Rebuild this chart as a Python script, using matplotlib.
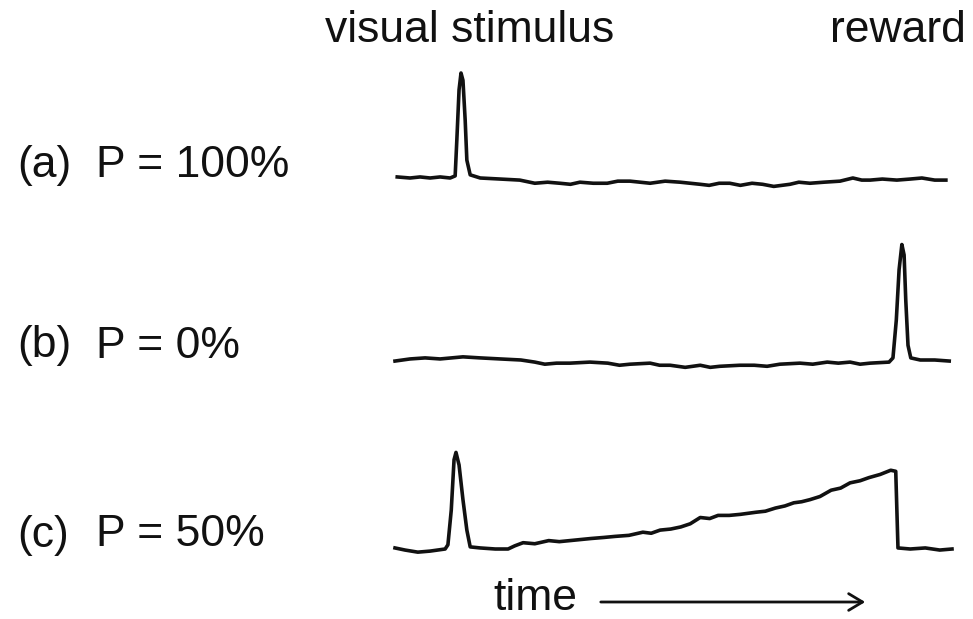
import matplotlib
matplotlib.use("Agg")
import matplotlib.pyplot as plt
from matplotlib.patches import FancyArrowPatch

plt.rcParams['font.family'] = ['Liberation Sans', 'DejaVu Sans']

# --- data (time in arbitrary units 0..100, response relative to baseline) ---
t_a = [0.4, 2.7, 4.5, 6.3, 8.1, 9.9, 10.8, 11.1, 11.5, 11.85, 12.2, 12.6, 12.9, 13.5, 15.3, 18.9,
       22.4, 25.1, 27.4, 29.6, 31.5, 33.2, 35.6, 38.1, 40.0, 42.2, 45.8, 48.5, 51.2, 54.8, 56.4,
       58.2, 60.1, 62.0, 64.1, 66.0, 68.0, 70.9, 72.5, 74.5, 77.0, 79.9, 82.2, 83.8, 85.3, 87.5,
       90.1, 92.5, 94.6, 96.9, 98.9]
r_a = [0.01, 0.0, 0.01, 0.0, 0.01, 0.0, 0.02, 0.36, 0.84, 1.0, 0.93, 0.55, 0.17, 0.03, 0.0, -0.01,
       -0.02, -0.05, -0.04, -0.05, -0.06, -0.04, -0.05, -0.05, -0.03, -0.03, -0.05, -0.03, -0.04, -0.06, -0.07,
       -0.05, -0.05, -0.07, -0.05, -0.06, -0.08, -0.06, -0.04, -0.05, -0.04, -0.03, 0.0, -0.02, -0.02, -0.01,
       -0.02, -0.01, 0.0, -0.02, -0.02]

t_b = [0.0, 2.7, 5.4, 8.1, 12.2, 15.3, 18.9, 22.6, 25.1, 26.9, 29.0, 31.4, 35.0, 38.2, 40.3, 42.2,
       45.8, 47.5, 49.4, 52.1, 54.8, 56.6, 58.3, 61.9, 64.5, 66.8, 69.1, 72.7, 75.0, 77.6, 79.6,
       81.7, 83.5, 85.3, 88.7, 89.4, 90.0, 90.5, 91.0, 91.4, 91.7, 92.1, 92.6, 94.3, 96.9, 99.5]
r_b = [-0.01, 0.01, 0.02, 0.01, 0.03, 0.02, 0.01, 0.0, -0.02, -0.04, -0.03, -0.03, -0.02, -0.03, -0.05, -0.04,
       -0.03, -0.05, -0.05, -0.07, -0.05, -0.07, -0.06, -0.05, -0.05, -0.06, -0.04, -0.03, -0.04, -0.02, -0.03,
       -0.02, -0.04, -0.03, -0.02, 0.02, 0.38, 0.86, 1.10, 1.0, 0.57, 0.14, 0.02, 0.0, 0.0, -0.01]

t_c = [0.0, 1.8, 4.1, 6.3, 9.0, 9.5, 10.1, 10.6, 10.95, 11.5, 12.2, 12.9, 13.5, 15.3, 18.0, 20.3,
       21.5, 23.0, 25.1, 27.6, 29.5, 31.4, 33.3, 35.2, 37.5, 39.5, 42.0, 44.5, 46.0, 47.6, 49.5,
       51.3, 53.0, 54.8, 56.5, 58.0, 60.0, 62.0, 64.8, 66.5, 68.3, 70.0, 71.6, 73.0, 74.5, 76.3,
       78.3, 80.0, 81.7, 83.5, 85.1, 87.1, 89.0, 89.9, 90.3, 92.5, 95.2, 97.8, 100.0]
r_c = [0.01, -0.01, -0.03, -0.02, 0.0, 0.04, 0.37, 0.85, 0.92, 0.80, 0.47, 0.18, 0.02, 0.01, 0.0, 0.0,
       0.03, 0.06, 0.05, 0.08, 0.07, 0.08, 0.09, 0.10, 0.11, 0.12, 0.13, 0.16, 0.15, 0.18, 0.19,
       0.21, 0.24, 0.30, 0.29, 0.32, 0.32, 0.33, 0.35, 0.36, 0.39, 0.41, 0.44, 0.45, 0.47, 0.50,
       0.56, 0.58, 0.63, 0.65, 0.68, 0.71, 0.75, 0.74, 0.01, 0.0, 0.01, -0.01, 0.0]

conditions = ["P = 100%", "P = 0%", "P = 50%"]
panel_tags = ["(a)", "(b)", "(c)"]
events = ["visual stimulus", "reward"]

traces = [(t_a, r_a), (t_b, r_b), (t_c, r_c)]

W, H = 973, 619
fig = plt.figure(figsize=(W / 100, H / 100), dpi=100)

baselines = [178, 360, 549]      # pixel row of each trace's baseline
label_rows = [166, 346, 535]
unit = 105                       # pixels per response unit
ymin, ymax = -0.3, 1.2
ink = "#111111"

for (t, r), base in zip(traces, baselines):
    top = base - ymax * unit
    bottom = base - ymin * unit
    ax = fig.add_axes([395 / W, 1 - bottom / H, 557 / W, (bottom - top) / H])
    ax.plot(t, r, color=ink, lw=2.6, solid_joinstyle="round", clip_on=False)
    ax.set_xlim(0, 100)
    ax.set_ylim(ymin, ymax)
    ax.axis("off")

fs = 32
for tag, cond, row in zip(panel_tags, conditions, label_rows):
    fig.text(17 / W, 1 - row / H, tag, fontsize=fs, va="center", ha="left", color=ink)
    fig.text(96 / W, 1 - row / H, cond, fontsize=fs, va="center", ha="left", color=ink)

fig.text(470 / W, 1 - 30 / H, events[0], fontsize=fs, va="center", ha="center", color=ink)
fig.text(898 / W, 1 - 30 / H, events[1], fontsize=fs, va="center", ha="center", color=ink)

fig.text(535 / W, 1 - 598 / H, "time", fontsize=fs, va="center", ha="center", color=ink)
fig.add_artist(FancyArrowPatch(
    (598 / W, 1 - 602 / H), (868 / W, 1 - 602 / H), transform=fig.transFigure,
    arrowstyle="->,head_length=0.5,head_width=0.3", mutation_scale=20,
    lw=2.0, color=ink))

fig.savefig("out.png", dpi=100, facecolor="white")
